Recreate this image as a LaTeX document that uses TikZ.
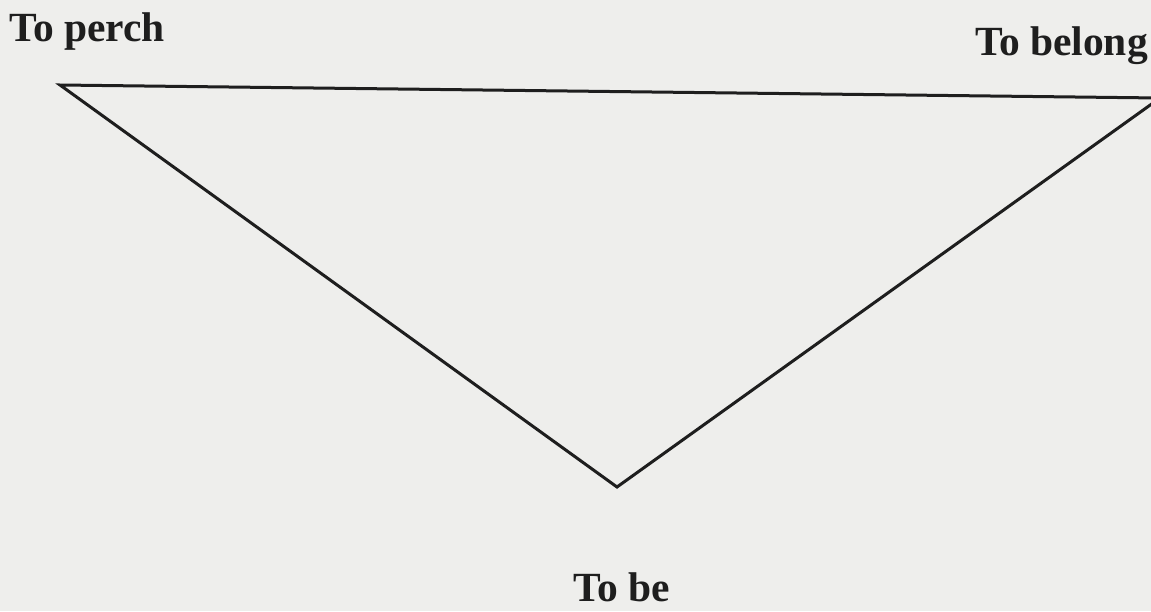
\documentclass[tikz,border=0pt]{standalone}
\usepackage{fontspec}
\setmainfont{Liberation Serif}
\definecolor{paper}{HTML}{EEEEEC}
\definecolor{ink}{HTML}{1E1E1E}
\begin{document}
\begin{tikzpicture}[x=1pt,y=-1pt,
  lbl/.style={font=\fontsize{41.5}{46}\selectfont\bfseries, text=ink, inner sep=0pt, anchor=base west},
  edge/.style={draw=ink, line width=3pt, line join=miter}]
\useasboundingbox (0,0) rectangle (1151,611);
\fill[paper] (0,0) rectangle (1151,611);
\node[lbl] (perch) at (9,41) {To perch};
\node[lbl, anchor=base east] (belong) at (1148,55) {To belong};
\node[lbl] (be) at (573,601) {To be};
\coordinate (A) at (60,85);
\coordinate (B) at (1160,98);
\coordinate (C) at (617,487);
\begin{scope}
\clip (0,0) rectangle (1151,611);
\draw[edge] (A) -- (B) -- (C) -- cycle;
\end{scope}
\end{tikzpicture}
\end{document}
